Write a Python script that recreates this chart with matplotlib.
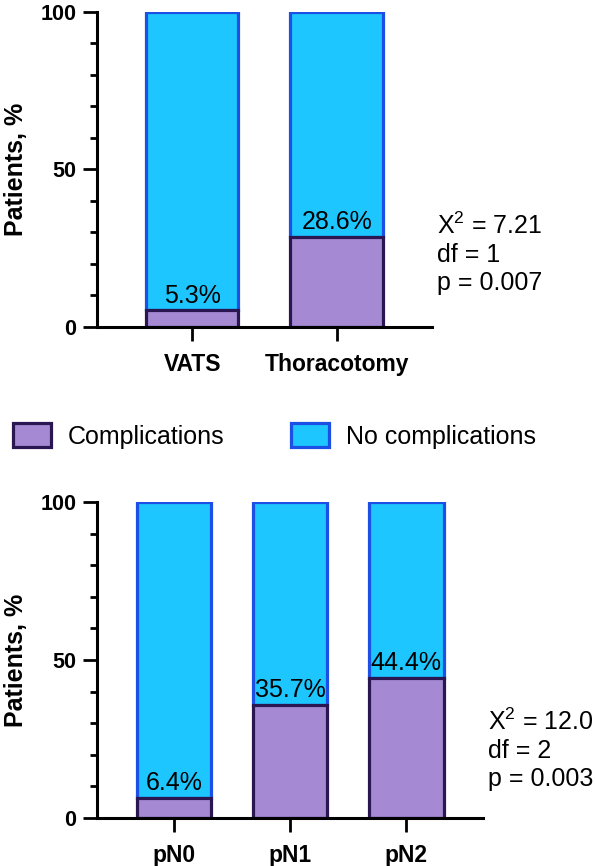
import matplotlib.pyplot as plt
from matplotlib.patches import Patch
from matplotlib.ticker import MultipleLocator

plt.rcParams['font.family'] = ['Liberation Sans', 'DejaVu Sans']

# data
surgery = ['VATS', 'Thoracotomy']
surgery_compl = [5.3, 28.6]
stage = ['pN0', 'pN1', 'pN2']
stage_compl = [6.4, 35.7, 44.4]
stats_top = [r'X$^{\mathregular{2}}$ = 7.21', 'df = 1', 'p = 0.007']
stats_bottom = [r'X$^{\mathregular{2}}$ = 12.0', 'df = 2', 'p = 0.003']

# colours
purple = '#A58AD3'
purple_edge = '#2A1650'
blue = '#1DC6FE'
blue_edge = '#1B4FE6'


def stacked(ax, cats, compl):
    x = list(range(len(cats)))
    no_compl = [100 - c for c in compl]
    ax.bar(x, no_compl, bottom=compl, width=0.64, color=blue,
           edgecolor=blue_edge, linewidth=2.3)
    ax.bar(x, compl, width=0.64, color=purple,
           edgecolor=purple_edge, linewidth=2.3)
    for xi, c in zip(x, compl):
        ax.annotate(f'{c}%', (xi, c), xytext=(0, 2), textcoords='offset points',
                    ha='center', va='bottom', fontsize=18)
    ax.set_xticks(x)
    ax.set_xticklabels(cats, fontsize=16.5, fontweight='bold')
    ax.set_xlim(-0.66, len(cats) - 1 + 0.66)
    ax.set_ylim(0, 100)
    ax.set_yticks([0, 50, 100])
    ax.set_yticklabels(['0', '50', '100'], fontsize=15.5, fontweight='bold')
    ax.yaxis.set_minor_locator(MultipleLocator(10))
    ax.set_ylabel('Patients, %', fontsize=18, fontweight='bold', labelpad=9)
    for s in ['top', 'right']:
        ax.spines[s].set_visible(False)
    for s in ['left', 'bottom']:
        ax.spines[s].set_linewidth(2.2)
    ax.tick_params(axis='y', which='major', length=10, width=2, pad=5)
    ax.tick_params(axis='y', which='minor', length=5, width=2)
    ax.tick_params(axis='x', length=10, width=2, pad=9)


fig = plt.figure(figsize=(5.95, 8.66), dpi=100)

ax1 = fig.add_axes([0.163, 0.6224, 0.563, 0.364])
stacked(ax1, surgery, surgery_compl)

ax2 = fig.add_axes([0.163, 0.0554, 0.649, 0.365])
stacked(ax2, stage, stage_compl)

fig.text(0.734, 1 - 213 / 866, '\n'.join(stats_top), fontsize=18, va='top', ha='left',
         linespacing=1.2)
fig.text(0.82, 1 - 709 / 866, '\n'.join(stats_bottom), fontsize=18, va='top', ha='left',
         linespacing=1.2)

handles = [Patch(facecolor=purple, edgecolor=purple_edge, linewidth=2.3, label='Complications'),
           Patch(facecolor=blue, edgecolor=blue_edge, linewidth=2.3, label='No complications')]
fig.legend(handles=handles, loc='center left', bbox_to_anchor=(13 / 595, 1 - 436 / 866),
           ncol=2, frameon=False, fontsize=18, handlelength=1.52, handleheight=1.04,
           handletextpad=0.68, columnspacing=2.64, borderpad=0, borderaxespad=0)

fig.savefig('out.png', dpi=100)
